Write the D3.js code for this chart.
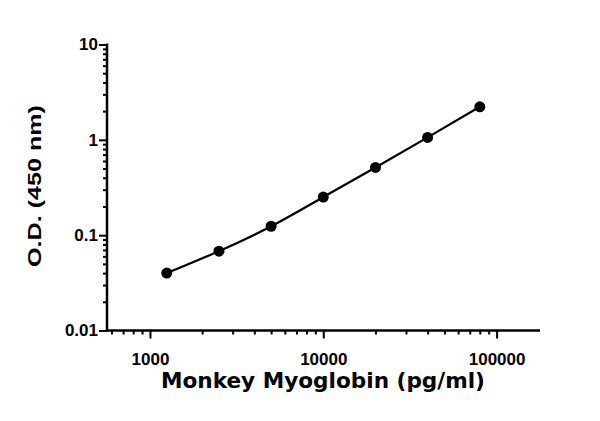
<!DOCTYPE html>
<html>
<head>
<meta charset="utf-8">
<script src="https://cdn.jsdelivr.net/npm/d3@7.9.0/dist/d3.min.js"></script>
<style>
  body { margin: 0; background: #fff; }
  svg { display: block; }
  .tick text { font-family: "Liberation Sans", Arial, sans-serif; }
</style>
</head>
<body>
<div id="chart"></div>
<script>
// Standard curve readings (pg/ml vs O.D. 450 nm)
const concentrations = [1250, 2500, 5000, 10000, 20000, 40000, 80000];
const odValues = [0.040, 0.068, 0.124, 0.251, 0.513, 1.06, 2.22];

const xMajorTicks = [1000, 10000, 100000];
const yMajorTicks = [0.01, 0.1, 1, 10];
const xTickLabels = ['1000', '10000', '100000'];
const yTickLabels = ['0.01', '0.1', '1', '10'];

const xLabel = 'Monkey Myoglobin (pg/ml)';
const yLabel = 'O.D. (450 nm)';

const width = 600;
const height = 421;

const svg = d3.select('#chart')
  .append('svg')
  .attr('width', width)
  .attr('height', height);

const xScale = d3.scaleLog()
  .domain([565, 178000])
  .range([107, 540]);

const yScale = d3.scaleLog()
  .domain([0.01, 10])
  .range([330.5, 44.5]);

// minor ticks: 2..9 in every decade that fits the domain
function minorTicks(scale) {
  const [a, b] = scale.domain();
  const out = [];
  for (let e = Math.floor(Math.log10(a)); e <= Math.ceil(Math.log10(b)); e++) {
    for (let m = 2; m <= 9; m++) {
      const v = m * Math.pow(10, e);
      if (v >= a && v <= b) out.push(v);
    }
  }
  return out;
}

// x axis
const xAxisG = svg.append('g')
  .attr('transform', `translate(0, ${yScale(0.01)})`);

xAxisG.append('g')
  .call(d3.axisBottom(xScale).tickValues(minorTicks(xScale)).tickSize(4).tickFormat(''))
  .call((g) => g.select('.domain').remove());

xAxisG.append('g')
  .call(d3.axisBottom(xScale)
    .tickValues(xMajorTicks)
    .tickSize(8)
    .tickSizeOuter(0)
    .tickPadding(14)
    .tickFormat((d, i) => xTickLabels[i]))
  .call((g) => g.select('.domain').attr('d', `M${xScale.range()[0] - 1},0H${xScale.range()[1]}`));

// y axis
const yAxisG = svg.append('g')
  .attr('transform', `translate(${xScale.range()[0]}, 0)`);

yAxisG.append('g')
  .call(d3.axisLeft(yScale).tickValues(minorTicks(yScale)).tickSize(4).tickFormat(''))
  .call((g) => g.select('.domain').remove());

yAxisG.append('g')
  .call(d3.axisLeft(yScale)
    .tickValues(yMajorTicks)
    .tickSize(8)
    .tickSizeOuter(0)
    .tickPadding(1)
    .tickFormat((d, i) => yTickLabels[i]))
  .call((g) => g.select('.domain').attr('d', `M0,${yScale.range()[0] + 1}V${yScale.range()[1] - 1}`));

svg.selectAll('.domain').attr('stroke', '#000').attr('stroke-width', 2.5);
svg.selectAll('.tick line').attr('stroke', '#000').attr('stroke-width', 2);
svg.selectAll('.tick text')
  .attr('fill', '#000')
  .style('font-size', '17px')
  .style('font-weight', 'bold');

// fitted curve
const points = concentrations.map((c, i) => ({ c, od: odValues[i] }));

svg.append('path')
  .datum(points)
  .attr('fill', 'none')
  .attr('stroke', '#000')
  .attr('stroke-width', 2.2)
  .attr('d', d3.line()
    .x((d) => xScale(d.c))
    .y((d) => yScale(d.od))
    .curve(d3.curveNatural));

svg.append('g')
  .selectAll('circle')
  .data(points)
  .join('circle')
  .attr('cx', (d) => xScale(d.c))
  .attr('cy', (d) => yScale(d.od))
  .attr('r', 5.5)
  .attr('fill', '#000');

// axis titles (stretched wide like the original export)
svg.append('text')
  .attr('x', 323)
  .attr('y', 388)
  .attr('text-anchor', 'middle')
  .attr('textLength', 324)
  .attr('lengthAdjust', 'spacingAndGlyphs')
  .style('font-family', '"DejaVu Sans", "Liberation Sans", sans-serif')
  .style('font-weight', 'bold')
  .style('font-size', '22px')
  .text(xLabel);

svg.append('text')
  .attr('transform', 'translate(41, 186) rotate(-90)')
  .attr('text-anchor', 'middle')
  .attr('textLength', 162)
  .attr('lengthAdjust', 'spacingAndGlyphs')
  .style('font-family', '"Liberation Sans", Arial, sans-serif')
  .style('font-weight', 'bold')
  .style('font-size', '18px')
  .text(yLabel);
</script>
</body>
</html>
